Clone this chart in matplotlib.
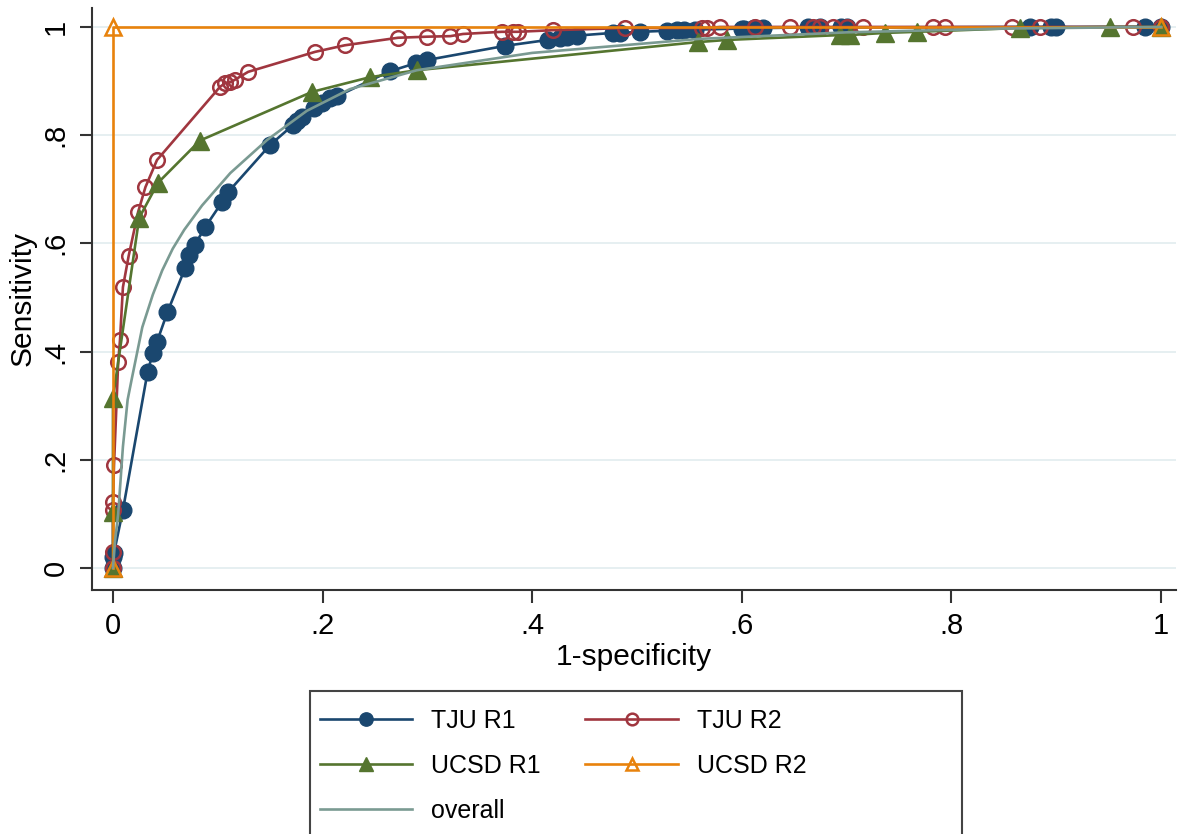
import matplotlib
matplotlib.use("Agg")
import matplotlib.pyplot as plt
from matplotlib.patches import Rectangle

plt.rcParams['font.family'] = ['Liberation Sans', 'DejaVu Sans']

# data
tju_r1_x = [0, 0.0, 0.001, 0.0095, 0.033, 0.038, 0.042, 0.052, 0.069, 0.073, 0.078, 0.088,
            0.104, 0.110, 0.150, 0.172, 0.176, 0.180, 0.192, 0.199, 0.207, 0.214, 0.264,
            0.289, 0.300, 0.374, 0.415, 0.427, 0.433, 0.443, 0.477, 0.484, 0.503, 0.529,
            0.538, 0.545, 0.555, 0.600, 0.602, 0.612, 0.620, 0.663, 0.675, 0.695, 0.700,
            0.875, 0.895, 0.900, 0.985, 1.0]
tju_r1_y = [0, 0.02, 0.028, 0.107, 0.362, 0.397, 0.418, 0.473, 0.555, 0.579, 0.597, 0.630,
            0.676, 0.695, 0.782, 0.819, 0.826, 0.834, 0.850, 0.860, 0.869, 0.872, 0.918,
            0.933, 0.939, 0.965, 0.976, 0.980, 0.982, 0.984, 0.989, 0.989, 0.991, 0.993,
            0.994, 0.994, 0.995, 0.997, 0.997, 0.998, 0.998, 0.999, 0.999, 0.999, 0.999,
            1.0, 1.0, 1.0, 1.0, 1.0]

tju_r2_x = [0, 0.0, 0.0, 0.0, 0.001, 0.005, 0.0067, 0.0095, 0.015, 0.024, 0.031, 0.042,
            0.102, 0.107, 0.112, 0.116, 0.129, 0.193, 0.221, 0.272, 0.300, 0.322, 0.334,
            0.371, 0.382, 0.386, 0.420, 0.489, 0.562, 0.567, 0.579, 0.613, 0.646, 0.668,
            0.675, 0.687, 0.700, 0.716, 0.782, 0.794, 0.858, 0.885, 0.973, 1.0]
tju_r2_y = [0, 0.03, 0.107, 0.122, 0.19, 0.381, 0.421, 0.519, 0.577, 0.658, 0.704, 0.754,
            0.889, 0.896, 0.898, 0.902, 0.917, 0.954, 0.966, 0.980, 0.982, 0.983, 0.987,
            0.991, 0.991, 0.991, 0.994, 0.998, 0.998, 0.998, 1.0, 1.0, 1.0, 1.0, 1.0, 1.0,
            1.0, 1.0, 1.0, 1.0, 1.0, 1.0, 1.0, 1.0]

ucsd_r1_x = [0, 0.0, 0.0, 0.025, 0.043, 0.083, 0.190, 0.245, 0.290, 0.558, 0.586, 0.694,
             0.703, 0.737, 0.767, 0.865, 0.951, 1.0]
ucsd_r1_y = [0, 0.103, 0.314, 0.647, 0.712, 0.790, 0.880, 0.907, 0.920, 0.972, 0.976, 0.985,
             0.985, 0.989, 0.991, 0.998, 1.0, 1.0]

ucsd_r2_x = [0, 0, 1]
ucsd_r2_y = [0, 1, 1]

overall_x = [0, 0.002, 0.005, 0.0095, 0.014, 0.018, 0.028, 0.038, 0.047, 0.057, 0.068,
             0.085, 0.112, 0.147, 0.185, 0.226, 0.290, 0.400, 0.560, 0.700, 0.850, 1.0]
overall_y = [0, 0.05, 0.10, 0.224, 0.311, 0.350, 0.445, 0.505, 0.550, 0.590, 0.625,
             0.670, 0.730, 0.791, 0.845, 0.885, 0.920, 0.952, 0.978, 0.990, 0.997, 1.0]

xticks = [0, 0.2, 0.4, 0.6, 0.8, 1]
tick_labels = ['0', '.2', '.4', '.6', '.8', '1']

navy = '#1a476f'
maroon = '#a0363f'
green = '#55752f'
orange = '#e8820c'
teal = '#7a9a92'

W, H = 1186, 834
fig = plt.figure(figsize=(W / 100, H / 100), dpi=100)
ax = fig.add_axes([92 / W, 1 - 590 / H, (1176 - 92) / W, (590 - 8) / H])

lw = 1.9
ax.plot(tju_r1_x, tju_r1_y, '-o', color=navy, lw=lw, ms=12, label='TJU R1', zorder=3)
ax.plot(tju_r2_x, tju_r2_y, '-o', color=maroon, lw=lw, ms=10.5, mfc='none', mew=1.8,
        label='TJU R2', zorder=3)
ax.plot(ucsd_r1_x, ucsd_r1_y, '-^', color=green, lw=lw, ms=12.5, label='UCSD R1', zorder=3)
ax.plot(ucsd_r2_x, ucsd_r2_y, '-^', color=orange, lw=lw, ms=11.5, mfc='none', mew=1.8,
        label='UCSD R2', zorder=3)
ax.plot(overall_x, overall_y, '-', color=teal, lw=lw, label='overall', zorder=4)

ax.set_xlim(-0.0200, 1.0143)
ax.set_ylim(-0.0407, 1.0350)
ax.set_xticks(xticks)
ax.set_xticklabels(tick_labels)
ax.set_yticks(xticks)
ax.set_yticklabels(tick_labels, rotation=90, va='center')
ax.tick_params(labelsize=21, length=9, width=1.5, color='#333333', pad=7)
ax.yaxis.grid(True, color='#e6eff1', lw=1.4)
ax.set_axisbelow(True)
for s in ['top', 'right']:
    ax.spines[s].set_visible(False)
for s in ['left', 'bottom']:
    ax.spines[s].set_color('#333333')
    ax.spines[s].set_linewidth(1.5)

ax.set_xlabel('1-specificity', fontsize=21.5, labelpad=2)
ax.set_ylabel('Sensitivity', fontsize=21.5, labelpad=4)

# legend: box drawn separately so it can be wider than its entries
fig.patches.append(Rectangle((310 / W, -0.05), (962 - 310) / W, 0.05 + 1 - 691 / H,
                             transform=fig.transFigure, fill=False,
                             edgecolor='#444444', lw=1.5))
h = {l.get_label(): l for l in ax.get_lines()}
order = ['TJU R1', 'UCSD R1', 'overall', 'TJU R2', 'UCSD R2']
leg = fig.legend([h[k] for k in order], order, loc='upper left',
                 bbox_to_anchor=(297 / W, 1 - 686 / H), ncol=2, fontsize=18,
                 frameon=False, markerscale=0.8,
                 handlelength=3.7, columnspacing=1.8, labelspacing=0.85,
                 borderpad=0.4, handletextpad=0.75)

fig.savefig('out.png', dpi=100)
